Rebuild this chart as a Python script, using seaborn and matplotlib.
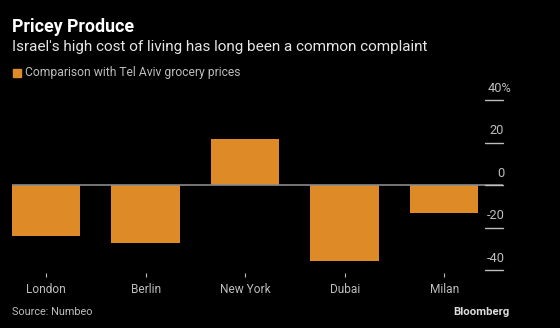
import matplotlib
matplotlib.use("Agg")
import matplotlib.pyplot as plt
import matplotlib.transforms as mtransforms
import seaborn as sns
import pandas as pd

cities = ["London", "Berlin", "New York", "Dubai", "Milan"]
values = [-24, -27, 22, -35.5, -13]
yticks = [40, 20, 0, -20, -40]
ytick_labels = ["40%", "20", "0", "-20", "-40"]

title = "Pricey Produce"
subtitle = "Israel's high cost of living has long been a common complaint"
legend_label = "Comparison with Tel Aviv grocery prices"
source = "Source: Numbeo"

BG = "#000000"
ORANGE = "#DE8A26"
GREY_TXT = "#BDBDBD"

sns.set_theme(style="white")
plt.rcParams["font.family"] = ["Roboto", "DejaVu Sans"]

df = pd.DataFrame({"city": cities, "value": values})

fig = plt.figure(figsize=(5.6, 3.28), dpi=100, facecolor=BG)
ax = fig.add_axes([0.0209, 0.1677, 0.898 - 0.0209, 0.720 - 0.1677])
ax.set_facecolor(BG)

sns.barplot(data=df, x="city", y="value", color=ORANGE, saturation=1,
            width=0.69, ax=ax, zorder=2, edgecolor="none", linewidth=0)

ax.set_xlim(-0.345, 4.59)
ax.set_ylim(-41.2, 44)
ax.axhline(0, color="#8A8A8A", lw=1.2, zorder=3)

for s in ax.spines.values():
    s.set_visible(False)

ax.set_xlabel("")
ax.set_ylabel("")
ax.tick_params(axis="x", colors=GREY_TXT, length=3, width=0.8, pad=4.5,
               labelsize=8.6, direction="out", bottom=True)
for lbl in ax.get_xticklabels():
    lbl.set_color(GREY_TXT)

ax.set_yticks([])
trans = mtransforms.blended_transform_factory(ax.transAxes, ax.transData)
for v, lab in zip(yticks, ytick_labels):
    ax.plot([0.963, 1.0], [v, v], transform=trans, color=GREY_TXT, lw=1,
            clip_on=False, zorder=3)
    extra = 5 if lab.endswith("%") else 0
    ax.annotate(lab, xy=(1.0, v), xycoords=trans, xytext=(1 + extra, 4),
                textcoords="offset points", ha="right", va="bottom",
                color=GREY_TXT, fontsize=9.2, annotation_clip=False)

fig.text(12 / 560, 1 - 27.5 / 328, title, color="white", fontsize=12.8,
         fontweight="bold", va="center", ha="left")
fig.text(12 / 560, 1 - 46.5 / 328, subtitle, color="#E6E6E6", fontsize=10.95,
         va="center", ha="left")
fig.patches.append(plt.Rectangle((13 / 560, 1 - 77 / 328), 8 / 560, 8 / 328,
                                 transform=fig.transFigure, color=ORANGE,
                                 figure=fig))
fig.text(25 / 560, 1 - 72.5 / 328, legend_label, color=GREY_TXT, fontsize=8.7,
         va="center", ha="left")
fig.text(12 / 560, 1 - 312 / 328, source, color=GREY_TXT, fontsize=7.8,
         va="center", ha="left")
fig.text(510 / 560, 1 - 312 / 328, "Bloomberg", color="#DDDDDD", fontsize=8.2,
         fontweight="bold", va="center", ha="right")

fig.savefig("out.png", dpi=100, facecolor=BG)
